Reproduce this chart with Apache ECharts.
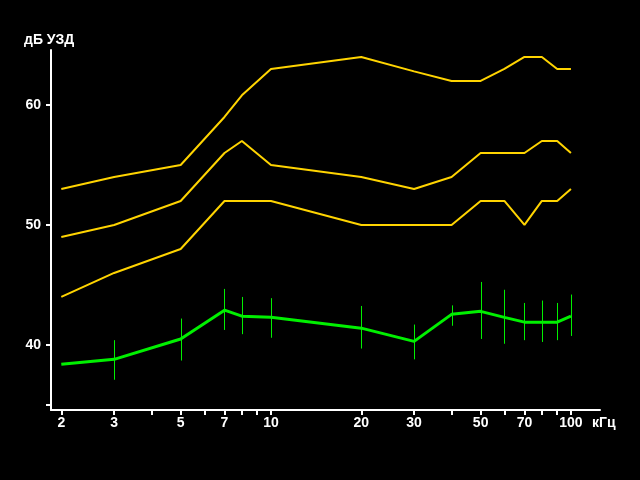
<!DOCTYPE html>
<html>
<head>
<meta charset="utf-8">
<script src="https://cdn.jsdelivr.net/npm/echarts@6/dist/echarts.min.js"></script>
<style>
html,body{margin:0;padding:0;background:#000;}
#c{width:640px;height:480px;}
</style>
</head>
<body>
<div id="c"></div>
<script>
// Frequencies (kHz)
var freqs = [2, 3, 5, 7, 8, 10, 20, 30, 40, 50, 60, 70, 80, 90, 100];
// Yellow curves (dB)
var upper  = [53, 54, 55, 59, 60.8, 63, 64, 62.8, 62, 62, 63, 64, 64, 63, 63];
var middle = [49, 50, 52, 56, 57, 55, 54, 53, 54, 56, 56, 56, 57, 57, 56];
var lower  = [44, 46, 48, 52, 52, 52, 50, 50, 50, 52, 52, 50, 52, 52, 53];
// Green curve (dB)
var green  = [38.4, 38.8, 40.5, 42.9, 42.4, 42.3, 41.4, 40.3, 42.55, 42.8, 42.3, 41.9, 41.9, 41.9, 42.4];
// Error bars for green curve
var errFreqs = [3, 5, 7, 8, 10, 20, 30, 40, 50, 60, 70, 80, 90, 100];
var errLow   = [37.1, 38.7, 41.25, 40.9, 40.6, 39.7, 38.8, 41.6, 40.5, 40.1, 40.4, 40.25, 40.4, 40.75];
var errHigh  = [40.4, 42.2, 44.67, 44.0, 43.9, 43.25, 41.7, 43.3, 45.25, 44.6, 43.5, 43.7, 43.5, 44.2];
// Axis ticks
var xTickFreqs  = [2, 3, 4, 5, 6, 7, 8, 9, 10, 20, 30, 40, 50, 60, 70, 80, 90, 100];
var xLabelFreqs = [2, 3, 5, 7, 10, 20, 30, 50, 70, 100];
var yTickVals  = [35, 40, 50, 60];
var yLabelVals = [40, 50, 60];
var xName = 'кГц';
var yName = 'дБ УЗД';

function lg(v){ return Math.log10(v); }
function pairs(xs, ys){ return xs.map(function(f,i){ return [lg(f), ys[i]]; }); }

var chart = echarts.init(document.getElementById('c'), null, {renderer:'canvas'});
var fontFam = 'Liberation Sans';
var yellow = '#ffd400';
var greenC = '#00f000';

chart.setOption({
  backgroundColor: '#000',
  animation: false,
  grid: {left: 51, right: 40, top: 50, bottom: 70, containLabel: false},
  xAxis: {
    type: 'value',
    min: lg(1.848), max: lg(125),
    splitLine: {show: false},
    axisLine: {show: true, lineStyle: {color: '#fff', width: 2}},
    axisTick: {show: true, length: 5, lineStyle: {color: '#fff', width: 2},
      customValues: xTickFreqs.map(lg)},
    axisLabel: {color: '#fff', fontFamily: fontFam, fontSize: 14, fontWeight: 'bold', margin: 6,
      customValues: xLabelFreqs.map(lg),
      formatter: function(v){ return String(Math.round(Math.pow(10, v))); }}
  },
  yAxis: {
    type: 'value',
    min: 34.58, max: 64.58,
    splitLine: {show: false},
    axisLine: {show: true, lineStyle: {color: '#fff', width: 2}},
    axisTick: {show: true, length: 5, lineStyle: {color: '#fff', width: 2},
      customValues: yTickVals},
    axisLabel: {color: '#fff', fontFamily: fontFam, fontSize: 14, fontWeight: 'bold', margin: 10,
      customValues: yLabelVals}
  },
  graphic: [
    {type: 'text', left: 24, top: 33, style: {text: yName, fill: '#fff', font: 'bold 14px "' + fontFam + '"'}},
    {type: 'text', left: 592, top: 416, style: {text: xName, fill: '#fff', font: 'bold 14px "' + fontFam + '"'}}
  ],
  series: [
    {type: 'line', data: pairs(freqs, upper), showSymbol: false, lineStyle: {color: yellow, width: 2}},
    {type: 'line', data: pairs(freqs, middle), showSymbol: false, lineStyle: {color: yellow, width: 2}},
    {type: 'line', data: pairs(freqs, lower), showSymbol: false, lineStyle: {color: yellow, width: 2}},
    {type: 'line', data: pairs(freqs, green), showSymbol: false, lineStyle: {color: greenC, width: 3}},
    {
      type: 'custom',
      data: errFreqs.map(function(f,i){ return [lg(f), errLow[i], errHigh[i]]; }),
      encode: {x: 0, y: [1, 2]},
      renderItem: function(params, api){
        var p1 = api.coord([api.value(0), api.value(1)]);
        var p2 = api.coord([api.value(0), api.value(2)]);
        var x = Math.round(p1[0]) + 0.5;
        return {type: 'line', shape: {x1: x, y1: p1[1], x2: x, y2: p2[1]},
          style: {stroke: greenC, lineWidth: 1}};
      }
    }
  ]
});
</script>
</body>
</html>
